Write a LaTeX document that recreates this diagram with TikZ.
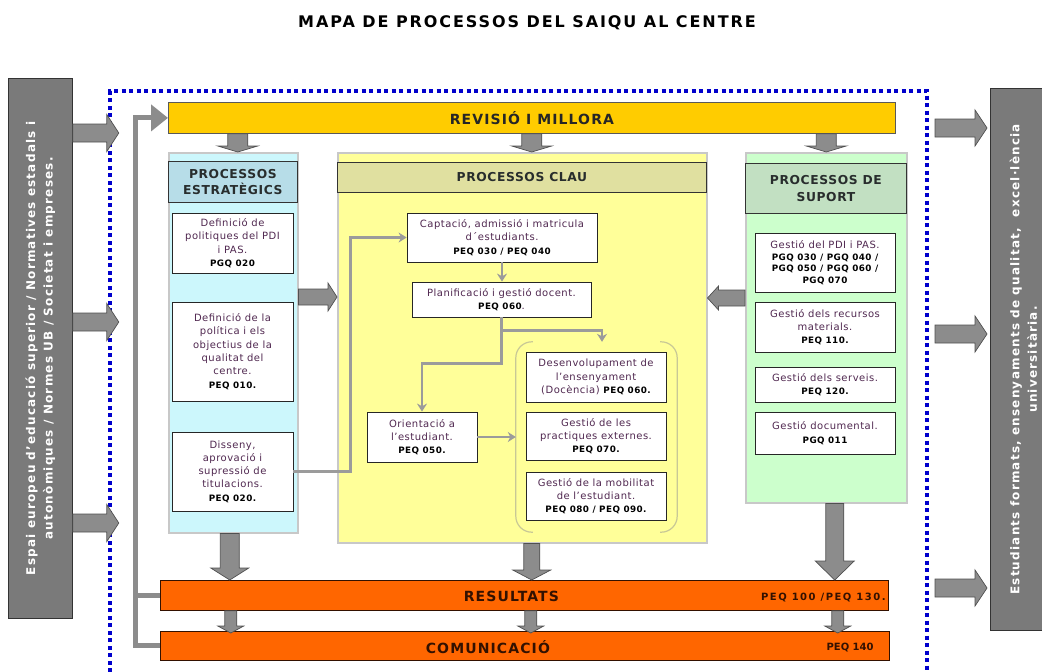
\documentclass[tikz,border=0pt]{standalone}
\usepackage{fontspec}
\setmainfont{DejaVu Sans}
\newfontfamily\caixafont{DejaVu Sans}[LetterSpace=5]
\newfontfamily\capfont{DejaVu Sans}[LetterSpace=5]
\newfontfamily\barrafont{DejaVu Sans}[LetterSpace=8]
\newfontfamily\costatfont{DejaVu Sans}[LetterSpace=10]
\newfontfamily\titolfont{DejaVu Sans}[LetterSpace=12]
\newfontfamily\peqfont{DejaVu Sans}[LetterSpace=15]
\usepackage{xcolor}
\usepackage{tikz}
\usetikzlibrary{shapes,arrows.meta,positioning,calc}

\definecolor{cian}{RGB}{204,247,252}
\definecolor{cianhead}{RGB}{183,221,232}
\definecolor{groc}{RGB}{255,255,153}
\definecolor{grochead}{RGB}{224,224,160}
\definecolor{verd}{RGB}{204,255,204}
\definecolor{verdhead}{RGB}{194,224,194}
\definecolor{daurat}{RGB}{255,204,0}
\definecolor{taronja}{RGB}{255,102,0}
\definecolor{marro}{RGB}{51,17,0}
\definecolor{gris}{RGB}{140,140,140}
\definecolor{grisfosc}{RGB}{80,80,80}
\definecolor{griscostat}{RGB}{122,122,122}
\definecolor{linia}{RGB}{155,155,155}
\definecolor{vora}{RGB}{200,200,200}
\definecolor{vorag}{RGB}{200,200,150}
\definecolor{blau}{RGB}{0,0,204}
\definecolor{lila}{RGB}{80,40,80}
\definecolor{textcap}{RGB}{40,45,45}

\newcommand{\codi}[1]{{\fontsize{8.8}{11}\selectfont\bfseries\color{black}#1}}
\newcommand{\fletxa}[5]{%
  \coordinate (fa) at #1; \coordinate (fb) at #2;
  \coordinate (fh) at ($(fb)!#5!(fa)$);
  \draw[blocfletxa] ($(fa)!#3!90:(fb)$) -- ($(fh)!#3!90:(fb)$) -- ($(fh)!#4!90:(fb)$) -- (fb)
    -- ($(fh)!#4!-90:(fb)$) -- ($(fh)!#3!-90:(fb)$) -- ($(fa)!#3!-90:(fb)$) -- cycle;}

\begin{document}
\begin{tikzpicture}[
    x=1pt, y=-1pt,
    titol/.style={font=\titolfont\bfseries\fontsize{16}{19}\selectfont, inner sep=0pt},
    columna/.style={rectangle, draw=vora, line width=1.5pt, anchor=north west, inner sep=0pt},
    capcal/.style={rectangle, draw=black!80, line width=.8pt, anchor=north west, align=center, text=textcap, font=\capfont\bfseries\fontsize{12.3}{16.5}\selectfont},
    caixa/.style={rectangle, draw=black!85, fill=white, line width=.8pt, align=center, inner sep=1pt, text=lila, font=\caixafont\fontsize{10}{13.3}\selectfont},
    barra/.style={rectangle, anchor=north west, line width=.8pt, inner sep=0pt},
    barratext/.style={font=\barrafont\bfseries\fontsize{14}{16}\selectfont, inner sep=0pt},
    costat/.style={rectangle, draw=black!80, fill=griscostat, line width=.8pt, anchor=north west},
    costattext/.style={rotate=90, align=center, text=white, font=\costatfont\bfseries\fontsize{12}{17.5}\selectfont},
    conn/.style={draw=linia, line width=2.5pt, -{Stealth[length=8pt,width=10pt]}},
    retorn/.style={draw=gris, line width=5pt},
    blocfletxa/.style={fill=gris, draw=grisfosc, line width=.7pt},
    claudator/.style={draw=vorag, line width=1.2pt, rounded corners=16pt},
    puntejat/.style={draw=blau, line width=4pt, dash pattern=on 4pt off 3.5pt}
]
    \useasboundingbox (0,0) rectangle (1042,672);
    \node[titol] (titol) at (527,22.5) {MAPA DE PROCESSOS DEL SAIQU AL CENTRE};
    \draw[puntejat] (110,672) -- (110,91) -- (927,91) -- (927,672);

    \node[costat, minimum width=64pt, minimum height=540pt] (ent) at (8,78) {};
    \node[costattext] (enttext) at (ent) {Espai europeu d’educació superior / Normatives estadals i\\autonòmiques / Normes UB / Societat i empreses.};
    \node[costat, minimum width=66pt, minimum height=542pt] (sor) at (990,88) {};
    \node[costattext] (sortext) at (sor) {Estudiants formats, ensenyaments de qualitat,~ excel·lència\\universitària.};

    \node[barra, fill=daurat, draw=black!65, minimum width=727pt, minimum height=31pt, font=\barrafont\bfseries\fontsize{14}{16}\selectfont, text=black!85] (rev) at (168,102) {REVISIÓ I MILLORA};

    \node[columna, fill=cian, minimum width=129pt, minimum height=380pt] (est) at (168,152) {};
    \node[capcal, fill=cianhead, minimum width=129pt, minimum height=41pt] (esth) at (168,161) {PROCESSOS\\ESTRATÈGICS};
    \node[columna, fill=groc, minimum width=369pt, minimum height=390pt] (clau) at (337,152) {};
    \node[capcal, fill=grochead, minimum width=369pt, minimum height=30pt] (clauh) at (337,162) {PROCESSOS CLAU};
    \node[columna, fill=verd, minimum width=161pt, minimum height=350pt] (sup) at (745,152) {};
    \node[capcal, fill=verdhead, minimum width=161pt, minimum height=50pt] (suph) at (745,163) {PROCESSOS DE\\SUPORT};

    \node[caixa, minimum width=121pt, minimum height=60pt] (pdi) at (232.5,243) {Definició de\\politiques del PDI\\i PAS.\\\codi{PGQ 020}};
    \node[caixa, minimum width=121pt, minimum height=99pt] (qual) at (232.5,351.5) {Definició de la\\política i els\\objectius de la\\qualitat del\\centre.\\\codi{PEQ 010.}};
    \node[caixa, minimum width=121pt, minimum height=79pt] (dis) at (232.5,471.5) {Disseny,\\aprovació i\\supressió de\\titulacions.\\\codi{PEQ 020.}};

    \node[minimum width=161pt, minimum height=190pt, inner sep=0pt] (grup) at (596.5,437) {};
    \draw[claudator] ([xshift=17pt]grup.north west) -- (grup.north west) -- (grup.south west) -- ([xshift=17pt]grup.south west);
    \draw[claudator] ([xshift=-17pt]grup.north east) -- (grup.north east) -- (grup.south east) -- ([xshift=-17pt]grup.south east);

    \node[caixa, minimum width=190pt, minimum height=49pt] (capt) at (502,237.5) {Captació, admissió i matricula\\d´estudiants.\\\codi{PEQ 030 / PEQ 040}};
    \node[caixa, minimum width=179pt, minimum height=35pt] (plan) at (501.5,299.5) {Planificació i gestió docent.\\\codi{PEQ 060}.};
    \node[caixa, minimum width=110pt, minimum height=50pt] (orient) at (422,437) {Orientació a\\l’estudiant.\\\codi{PEQ 050.}};
    \node[caixa, minimum width=140pt, minimum height=50pt] (doc) at (596,377) {Desenvolupament de\\l’ensenyament\\(Docència) \codi{PEQ 060.}};
    \node[caixa, minimum width=140pt, minimum height=48pt] (prac) at (596,436) {Gestió de les\\practiques externes.\\\codi{PEQ 070.}};
    \node[caixa, minimum width=140pt, minimum height=48pt] (mob) at (596,496) {Gestió de la mobilitat\\de l’estudiant.\\\codi{PEQ 080 / PEQ 090.}};

    \node[caixa, minimum width=140pt, minimum height=59pt, font=\caixafont\fontsize{10}{11.5}\selectfont] (gpdi) at (825,262.5) {Gestió del PDI i PAS.\\\codi{PGQ 030 / PGQ 040 /}\\\codi{PGQ 050 / PGQ 060 /}\\\codi{PGQ 070}};
    \node[caixa, minimum width=140pt, minimum height=50pt] (recu) at (825,327) {Gestió dels recursos\\materials.\\\codi{PEQ 110.}};
    \node[caixa, minimum width=140pt, minimum height=35pt] (serv) at (825,384.5) {Gestió dels serveis.\\\codi{PEQ 120.}};
    \node[caixa, minimum width=140pt, minimum height=42pt] (docu) at (825,433) {Gestió documental.\\\codi{PGQ 011}};

    \node[barra, fill=taronja, draw=marro, minimum width=728pt, minimum height=30pt] (res) at (160,580) {};
    \node[barratext, text=marro] (restext) at ($(res)+(-13,1)$) {RESULTATS};
    \node[anchor=east, inner sep=0pt, text=marro, font=\peqfont\bfseries\fontsize{10}{12}\selectfont] (rescodi) at ($(res.east)+(-3,2)$) {PEQ 100 /PEQ 130.};
    \node[barra, fill=taronja, draw=marro, minimum width=729pt, minimum height=29pt] (com) at (160,631) {};
    \node[barratext, text=marro] (comtext) at ($(com)+(-37,1)$) {COMUNICACIÓ};
    \node[anchor=east, inner sep=0pt, text=marro, font=\bfseries\fontsize{10}{12}\selectfont] (comcodi) at ($(com.east)+(-16,2)$) {PEQ 140};

    \draw[conn] (capt.south) -- (capt.south |- plan.north);
    \draw[conn] (plan.south) -- ++(0,13) -| ([xshift=5.5pt]grup.north);
    \draw[conn] (plan.south) -- ++(0,46) -| (orient.north);
    \draw[conn] (orient.east) -- (orient.east -| grup.west);
    \draw[conn] (dis.east) -- ++(57,0) |- (capt.west);

    \draw[retorn, -{Triangle[length=17pt,width=26pt]}] (res.west) -- ++(-25,0) |- (rev.west);
    \draw[retorn] (com.west) -| ([xshift=-25pt]res.west);

    \fletxa{($(ent.north east)+(0,55)$)}{($(ent.north east)+(46,55)$)}{9pt}{18.5pt}{12pt}
    \fletxa{($(ent.north east)+(0,244)$)}{($(ent.north east)+(46,244)$)}{9pt}{18.5pt}{12pt}
    \fletxa{($(ent.north east)+(0,445)$)}{($(ent.north east)+(46,445)$)}{9pt}{18.5pt}{12pt}
    \fletxa{($(sor.north west)+(-55,40)$)}{($(sor.north west)+(-3,40)$)}{9pt}{18pt}{12pt}
    \fletxa{($(sor.north west)+(-55,246)$)}{($(sor.north west)+(-3,246)$)}{9pt}{18pt}{12pt}
    \fletxa{($(sor.north west)+(-55,500)$)}{($(sor.north west)+(-3,500)$)}{9pt}{18pt}{12pt}

    \fletxa{($(rev.south -| est.north)+(4.5,0)$)}{($(est.north)+(4.5,0)$)}{10pt}{20pt}{6pt}
    \fletxa{($(rev.south -| clau.north)+(9.5,0)$)}{($(clau.north)+(9.5,0)$)}{10pt}{20pt}{6pt}
    \fletxa{(rev.south -| sup.north)}{(sup.north)}{10pt}{20pt}{6pt}

    \fletxa{($(est.north east)+(0,145)$)}{($(clau.north west)+(0,145)$)}{8pt}{14pt}{9pt}
    \fletxa{($(sup.north west)+(0,146)$)}{($(clau.north east)+(0,146)$)}{8pt}{12pt}{11pt}

    \fletxa{($(est.south)+(-3.5,0)$)}{($(est.south |- res.north)+(-3.5,0)$)}{9.5pt}{19pt}{12pt}
    \fletxa{($(clau.south)+(9.5,0)$)}{($(clau.south |- res.north)+(9.5,0)$)}{8pt}{19pt}{10pt}
    \fletxa{($(sup.south)+(8.5,0)$)}{($(sup.south |- res.north)+(8.5,0)$)}{9pt}{19.5pt}{19pt}

    \fletxa{($(est.south |- res.south)+(-2.5,0)$)}{($(est.south |- com.north)+(-2.5,2)$)}{6pt}{13pt}{7pt}
    \fletxa{($(clau.south |- res.south)+(8.5,0)$)}{($(clau.south |- com.north)+(8.5,2)$)}{6pt}{13pt}{7pt}
    \fletxa{($(sup.south |- res.south)+(11.5,0)$)}{($(sup.south |- com.north)+(11.5,2)$)}{6pt}{13pt}{7pt}
\end{tikzpicture}
\end{document}
